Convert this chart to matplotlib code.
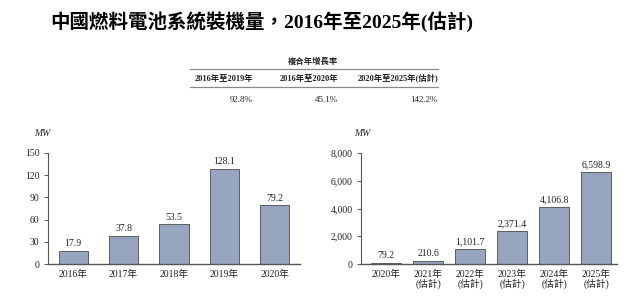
import matplotlib
matplotlib.use("Agg")
import matplotlib.pyplot as plt
from matplotlib.ticker import FuncFormatter

plt.rcParams['font.family'] = ['Liberation Serif', 'Noto Sans CJK TC', 'DejaVu Sans']

title = "中國燃料電池系統裝機量，2016年至2025年(估計)"
cagr_header = "複合年增長率"
cagr_periods = ["2016年至2019年", "2016年至2020年", "2020年至2025年(估計)"]
cagr_values = ["92.8%", "45.1%", "142.2%"]

left_cats = ["2016年", "2017年", "2018年", "2019年", "2020年"]
left_vals = [17.9, 37.8, 53.5, 128.1, 79.2]
left_ticks = [0, 30, 60, 90, 120, 150]

right_cats = ["2020年", "2021年\n(估計)", "2022年\n(估計)", "2023年\n(估計)", "2024年\n(估計)", "2025年\n(估計)"]
right_vals = [79.2, 210.6, 1101.7, 2371.4, 4106.8, 6598.9]
right_ticks = [0, 2000, 4000, 6000, 8000]

unit = "MW"

bar_color = "#97a5c0"
edge_color = "#4a4a4a"
text_color = "#222222"

fig = plt.figure(figsize=(6.4, 2.96), dpi=100)

W, H = 640, 296
def fx(x): return x / W
def fy(y): return 1 - y / H

fig.text(fx(262), fy(22), title, ha='center', va='center', fontsize=14,
         fontweight='bold', color='black')

# CAGR table
fig.text(fx(313), fy(62), cagr_header, ha='center', va='center', fontsize=6,
         fontweight='bold', color=text_color)
for yy in (69, 87):
    fig.add_artist(plt.Line2D([fx(190), fx(438)], [fy(yy), fy(yy)], color='#888888', lw=0.9))
col_right = [253, 338, 438]
for xr, p, v in zip(col_right, cagr_periods, cagr_values):
    fig.text(fx(xr), fy(79), p, ha='right', va='center', fontsize=6,
             fontweight='bold', color=text_color)
    fig.text(fx(xr), fy(100), v, ha='right', va='center', fontsize=6.5, color=text_color)

def style_ax(ax):
    for s in ('top', 'right'):
        ax.spines[s].set_visible(False)
    ax.spines['left'].set_color('#555555')
    ax.spines['bottom'].set_color('#555555')
    ax.spines['left'].set_linewidth(0.8)
    ax.spines['bottom'].set_linewidth(1.0)
    ax.tick_params(axis='y', length=3, width=0.7, color='#555555', labelsize=7, labelcolor=text_color, pad=3)
    ax.tick_params(axis='x', length=0, labelsize=7, labelcolor=text_color, pad=4)

# Left chart
ax1 = fig.add_axes([fx(48), fy(264), fx(300 - 48), (264 - 153) / H])
x1 = range(len(left_cats))
ax1.bar(x1, left_vals, width=0.58, color=bar_color, edgecolor=edge_color, linewidth=0.6)
ax1.set_xlim(-0.5, 4.5)
ax1.set_ylim(0, 150)
ax1.set_yticks(left_ticks)
ax1.set_xticks(list(x1))
ax1.set_xticklabels(left_cats)
style_ax(ax1)
for xi, v in zip(x1, left_vals):
    ax1.annotate(f"{v:.1f}", (xi, v), xytext=(0, 2), textcoords='offset points',
                 ha='center', va='bottom', fontsize=7, color=text_color)
fig.text(fx(42), fy(133), unit, ha='center', va='center', fontsize=7,
         style='italic', color=text_color)

# Right chart
ax2 = fig.add_axes([fx(361), fy(264), fx(617 - 361), (264 - 153) / H])
x2 = range(len(right_cats))
ax2.bar(x2, right_vals, width=0.71, color=bar_color, edgecolor=edge_color, linewidth=0.6)
ax2.set_xlim(-0.6, 5.5)
ax2.set_ylim(0, 8000)
ax2.set_yticks(right_ticks)
ax2.yaxis.set_major_formatter(FuncFormatter(lambda v, p: f"{int(v):,}"))
ax2.set_xticks(list(x2))
ax2.set_xticklabels(right_cats, linespacing=1.0)
style_ax(ax2)
for xi, v in zip(x2, right_vals):
    ax2.annotate(f"{v:,.1f}", (xi, v), xytext=(0, 2), textcoords='offset points',
                 ha='center', va='bottom', fontsize=7, color=text_color)
fig.text(fx(362), fy(133), unit, ha='center', va='center', fontsize=7,
         style='italic', color=text_color)

fig.savefig("out.png", dpi=100, facecolor='white')
